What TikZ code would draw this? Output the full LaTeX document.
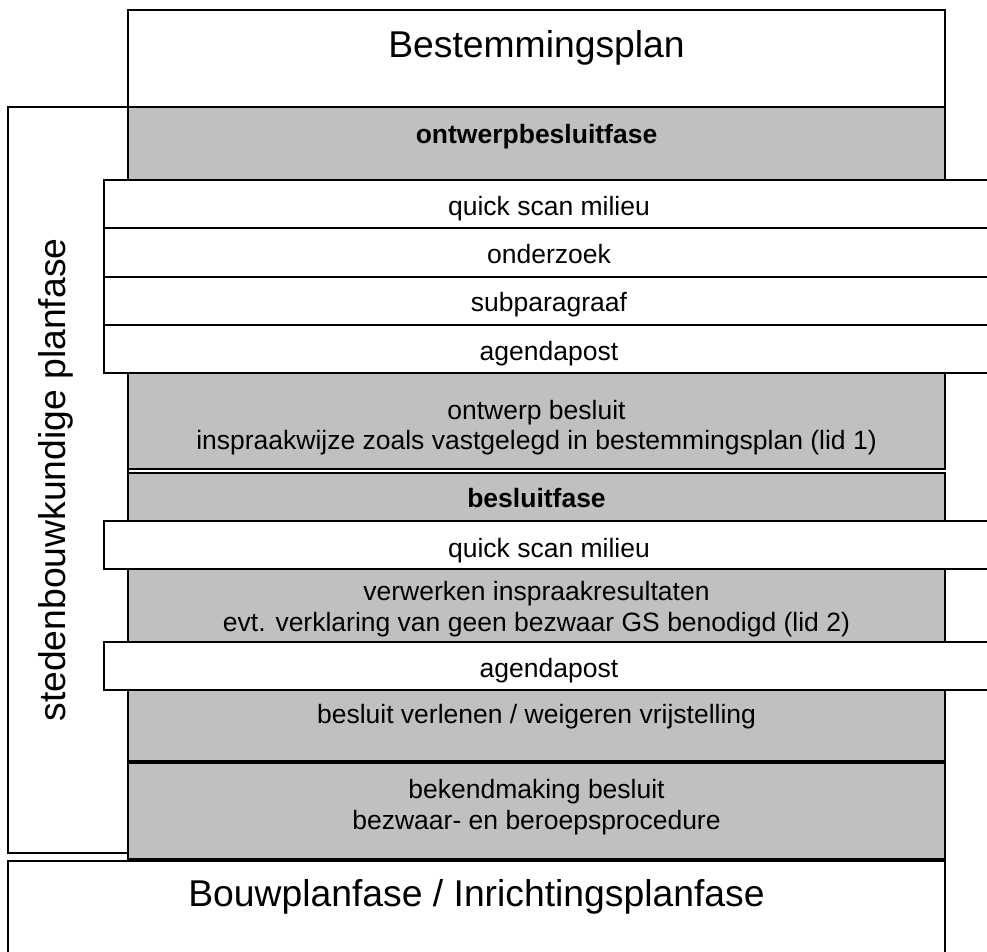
\documentclass[tikz,border=0pt]{standalone}
\usepackage{fontspec}
\setmainfont{Liberation Sans}
\definecolor{fasegrijs}{RGB}{192,192,192}

\begin{document}
\begin{tikzpicture}[x=1pt, y=-1pt, line width=1.8pt,
	grijs/.style={draw=black, fill=fasegrijs},
	wit/.style={draw=black, fill=white},
	klein/.style={font=\fontsize{26.5}{31}\selectfont, anchor=base, inner sep=0pt},
	groot/.style={font=\fontsize{37.3}{44}\selectfont, anchor=base, inner sep=0pt}]

		\path[use as bounding box] (0,0) rectangle (987,951);
		\clip (0,0) rectangle (987,951);

		% hoofdvakken
		\draw[wit] (128,10) rectangle (945,107);
		\draw[wit] (8,107) rectangle (128,853);

		% grijze fasen
		\draw[grijs] (128,107) rectangle (945,180);
		\draw[grijs] (128,373) rectangle (945,469);
		\draw[grijs] (128,473) rectangle (945,521);
		\draw[grijs] (128,569) rectangle (945,642);
		\draw[grijs] (128,690) rectangle (945,761);
		\draw[grijs] (128,763) rectangle (945,859);

		\draw[wit] (8,861) rectangle (945,960);

		% witte stappen
		\draw[wit] (104,180) rectangle (994,228);
		\draw[wit] (104,228) rectangle (994,277);
		\draw[wit] (104,277) rectangle (994,325);
		\draw[wit] (104,325) rectangle (994,373);
		\draw[wit] (104,521) rectangle (994,569);
		\draw[wit] (104,642) rectangle (994,690);

		\node[groot] (bestemming) at (536.5,57) {Bestemmingsplan};
		\node[groot] (bouwplan) at (476.5,906) {Bouwplanfase / Inrichtingsplanfase};
		\node[groot, rotate=90] (planfase) at (65,480) {stedenbouwkundige planfase};

		\node[klein] (ontwerpfase) at (536.5,143) {\textbf{ontwerpbesluitfase}};
		\node[klein] (scan1) at (549,215) {quick scan milieu};
		\node[klein] (onderzoek) at (549,263) {onderzoek};
		\node[klein] (subpar) at (549,311) {subparagraaf};
		\node[klein] (agenda1) at (549,360) {agendapost};
		\node[klein] (ontwerp) at (536.5,419) {ontwerp besluit};
		\node[klein] (inspraak) at (536.5,449) {inspraakwijze zoals vastgelegd in bestemmingsplan (lid 1)};
		\node[klein] (besluitfase) at (536.5,507) {\textbf{besluitfase}};
		\node[klein] (scan2) at (549,557) {quick scan milieu};
		\node[klein] (verwerken) at (536.5,600) {verwerken inspraakresultaten};
		\node[klein] (verklaring) at (536.5,631) {evt. verklaring van geen bezwaar GS benodigd (lid 2)};
		\node[klein] (agenda2) at (549,677) {agendapost};
		\node[klein] (verlenen) at (536.5,723) {besluit verlenen / weigeren vrijstelling};
		\node[klein] (bekend) at (536.5,798) {bekendmaking besluit};
		\node[klein] (bezwaar) at (536.5,829) {bezwaar- en beroepsprocedure};

\end{tikzpicture}
\end{document}
